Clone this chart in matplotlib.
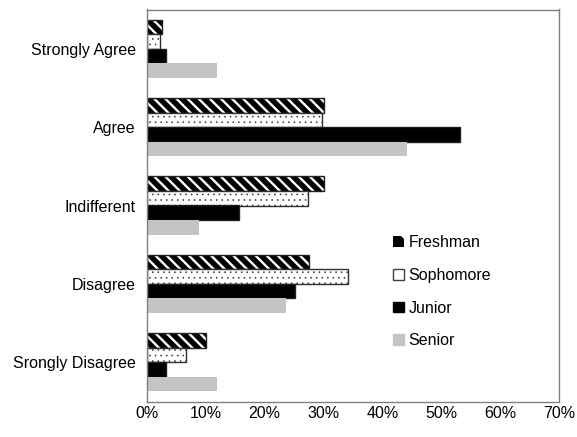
import numpy as np
import matplotlib
matplotlib.use('Agg')
import matplotlib.pyplot as plt
from matplotlib.patches import Patch

plt.rcParams['font.family'] = ['Liberation Sans', 'DejaVu Sans']
plt.rcParams['hatch.linewidth'] = 1.7

categories = ['Strongly Agree', 'Agree', 'Indifferent', 'Disagree', 'Srongly Disagree']
classes = ['Freshman', 'Sophomore', 'Junior', 'Senior']

# percent of respondents per answer
freshman = [2.5, 30.0, 30.0, 27.6, 10.0]
sophomore = [2.2, 29.7, 27.4, 34.1, 6.7]
junior = [3.2, 53.2, 15.6, 25.1, 3.2]
senior = [11.9, 44.2, 8.9, 23.7, 11.9]

fig = plt.figure(figsize=(5.77, 4.37), dpi=100)
ax = fig.add_axes([147 / 577, 1 - 401.5 / 437, 412 / 577, 392 / 437])

y = np.arange(len(categories))
h = 0.185
off = [-1.5 * h, -0.5 * h, 0.5 * h, 1.5 * h]

# freshman: white stripes on black, then a dark outline on top
ax.barh(y + off[0], freshman, height=h, facecolor='black', edgecolor='white',
        hatch='\\\\\\', linewidth=0)
ax.barh(y + off[0], freshman, height=h, fill=False, edgecolor='#202020', linewidth=1.0)
soph = ax.barh(y + off[1], sophomore, height=h, facecolor='white', edgecolor='#303030',
               hatch='...', linewidth=1.0)
for p in soph:
    p.set_hatch_linewidth(0.4)
ax.barh(y + off[2], junior, height=h, color='black', edgecolor='#202020', linewidth=1.0)
ax.barh(y + off[3], senior, height=h, color='#c4c4c4', linewidth=0)

ax.set_xlim(0, 70)
ax.set_ylim(len(categories) - 0.5, -0.5)
ax.set_xticks(np.arange(0, 71, 10))
ax.set_xticklabels(['%d%%' % v for v in range(0, 71, 10)])
ax.set_yticks(y)
ax.set_yticklabels(categories)
ax.tick_params(length=0, labelsize=11.5, colors='black')
ax.tick_params(axis='x', pad=3)
ax.tick_params(axis='y', pad=8)
for s in ax.spines.values():
    s.set_color('#808080')
    s.set_linewidth(1.0)

handles = [
    Patch(facecolor='black', edgecolor='white', hatch='\\', linewidth=0),
    Patch(facecolor='white', edgecolor='#404040', hatch='.', linewidth=1.0),
    Patch(facecolor='black', edgecolor='black'),
    Patch(facecolor='#c4c4c4', edgecolor='#c4c4c4'),
]
fig.legend(handles, classes, loc='upper left', bbox_to_anchor=(379 / 577, 1 - 221 / 437),
           frameon=False, fontsize=11.5, handlelength=0.65, handleheight=0.65,
           handletextpad=0.3, labelspacing=1.1)

fig.savefig('out.png', dpi=100)
